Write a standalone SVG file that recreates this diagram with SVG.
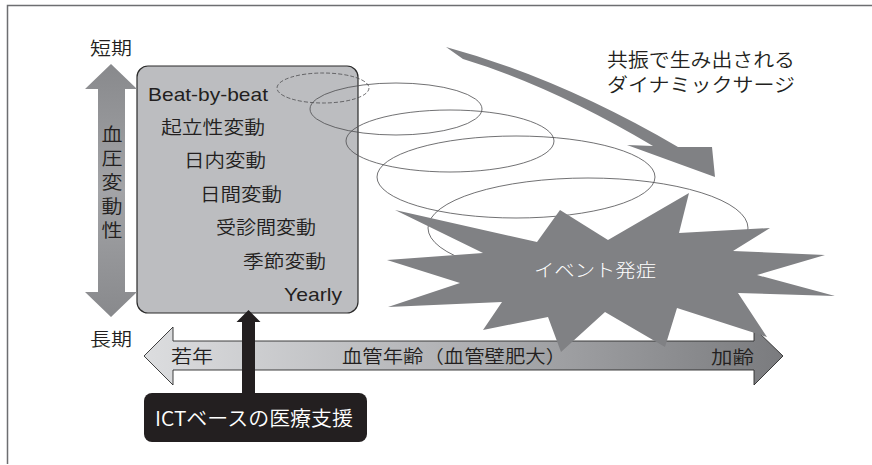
<svg xmlns="http://www.w3.org/2000/svg" width="872" height="465" viewBox="0 0 872 465">
  <defs>
    <linearGradient id="gV" x1="0" y1="0" x2="0" y2="1">
      <stop offset="0" stop-color="#88898c"/>
      <stop offset="0.5" stop-color="#a3a4a7"/>
      <stop offset="1" stop-color="#88898c"/>
    </linearGradient>
    <linearGradient id="gH" x1="144" y1="0" x2="783" y2="0" gradientUnits="userSpaceOnUse">
      <stop offset="0" stop-color="#dcdddf"/>
      <stop offset="0.45" stop-color="#b4b5b8"/>
      <stop offset="1" stop-color="#7a7b7e"/>
    </linearGradient>
    <style>
      .jp { font-family: "Noto Sans CJK JP", "Noto Sans CJK SC", sans-serif; font-size: 18px; font-weight: 350; fill: #231f20; }
      .lat { font-family: "Liberation Sans", Arial, sans-serif; font-size: 19px; fill: #231f20; }
      .ell { fill: none; stroke: #4d4d4f; stroke-width: 0.8; }
    </style>
  </defs>

  <rect width="872" height="465" fill="#ffffff"/>
  <path d="M7.5,464 V5.5 H872" fill="none" stroke="#6d6e71" stroke-width="1.5"/>

  <g id="variability-box">
    <rect x="137" y="66" width="221" height="247" rx="11" fill="#bcbdc0" stroke="#2b2b2b" stroke-width="1.2"/>
    <text class="lat" x="148" y="101" textLength="120" lengthAdjust="spacingAndGlyphs">Beat-by-beat</text>
    <text class="jp" x="161" y="134" textLength="104" lengthAdjust="spacingAndGlyphs">起立性変動</text>
    <text class="jp" x="184" y="167" textLength="82" lengthAdjust="spacingAndGlyphs">日内変動</text>
    <text class="jp" x="200" y="201" textLength="82" lengthAdjust="spacingAndGlyphs">日間変動</text>
    <text class="jp" x="216" y="234" textLength="100" lengthAdjust="spacingAndGlyphs">受診間変動</text>
    <text class="jp" x="243" y="268" textLength="83" lengthAdjust="spacingAndGlyphs">季節変動</text>
    <text class="lat" x="284" y="301" textLength="58" lengthAdjust="spacingAndGlyphs">Yearly</text>
  </g>

  <g id="resonance-loops">
    <ellipse class="ell" cx="323" cy="88" rx="46" ry="15" stroke-dasharray="4 2"/>
    <ellipse class="ell" cx="396" cy="109" rx="86" ry="26"/>
    <ellipse class="ell" cx="450" cy="141" rx="104" ry="31"/>
    <ellipse class="ell" cx="516" cy="177" rx="139" ry="41"/>
    <ellipse class="ell" cx="588" cy="228" rx="160" ry="50"/>
  </g>

  <g id="bp-variability-axis">
    <polygon points="111,64 137,89 125,89 125,292 137,292 111,317 85,292 98,292 98,89 85,89" fill="url(#gV)"/>
    <text class="jp" x="112" y="141" text-anchor="middle" textLength="21" lengthAdjust="spacingAndGlyphs">血</text>
    <text class="jp" x="112" y="165" text-anchor="middle" textLength="21" lengthAdjust="spacingAndGlyphs">圧</text>
    <text class="jp" x="112" y="189" text-anchor="middle" textLength="21" lengthAdjust="spacingAndGlyphs">変</text>
    <text class="jp" x="112" y="213" text-anchor="middle" textLength="21" lengthAdjust="spacingAndGlyphs">動</text>
    <text class="jp" x="112" y="237" text-anchor="middle" textLength="21" lengthAdjust="spacingAndGlyphs">性</text>
  </g>
  <g id="label-short">
    <text class="jp" x="90" y="55" textLength="42" lengthAdjust="spacingAndGlyphs">短期</text>
  </g>
  <g id="label-long">
    <text class="jp" x="90" y="346" textLength="42" lengthAdjust="spacingAndGlyphs">長期</text>
  </g>

  <g id="age-axis">
    <polygon points="144,356 173,327 173,341 754,341 754,328 783,356 754,385 754,370 173,370 173,385" fill="url(#gH)" stroke="#2b2b2b" stroke-width="0.9"/>
  </g>

  <g id="connectors">
    <path d="M446,47 Q560,78 678,147 L712,147 L715,177 L627,145 L653,146 Q552,86 463,59 Z" fill="#808184"/>
    <polygon points="248.5,310 260.5,322 255,322 255,394 242,394 242,322 236.5,322" fill="#231f20"/>
  </g>

  <g id="event">
    <polygon points="395,210 537,242 560,210 608,240 689,193 679,233 770,228 733,251 825,255 757,275 835,296 738,293 767,337 677,308 665,347 605,312 561,352 548,317 483,330 502,302 388,307 460,283 387,260 483,253" fill="#808184"/>
    <text class="jp" x="534" y="277" textLength="122" lengthAdjust="spacingAndGlyphs" style="fill:#ffffff;font-weight:300">イベント発症</text>
  </g>

  <g id="age-labels">
    <text class="jp" x="171" y="363" textLength="42" lengthAdjust="spacingAndGlyphs">若年</text>
    <text class="jp" x="342" y="363" textLength="224" lengthAdjust="spacingAndGlyphs">血管年齢（血管壁肥大）</text>
    <text class="jp" x="711" y="364" textLength="43" lengthAdjust="spacingAndGlyphs">加齢</text>
  </g>

  <g id="surge-label">
    <text class="jp" x="607" y="67" textLength="188" lengthAdjust="spacingAndGlyphs" style="font-size:19px">共振で生み出される</text>
    <text class="jp" x="607" y="92" textLength="188" lengthAdjust="spacingAndGlyphs" style="font-size:19px">ダイナミックサージ</text>
  </g>

  <g id="ict-support">
    <rect x="144" y="393" width="223" height="49" rx="8" fill="#231f20"/>
    <text class="jp" x="155" y="426" textLength="198" lengthAdjust="spacingAndGlyphs" style="fill:#ffffff;font-size:20px">ICTベースの医療支援</text>
  </g>
</svg>
